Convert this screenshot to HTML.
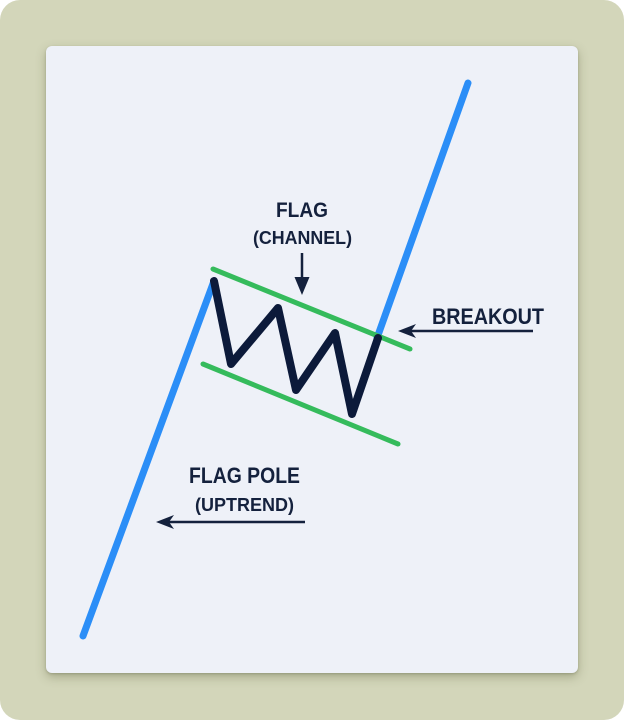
<!DOCTYPE html>
<html>
<head>
<meta charset="utf-8">
<style>
  html, body { margin: 0; padding: 0; background: #ffffff; }
  body { width: 624px; height: 720px; overflow: hidden; position: relative; }
  .outer {
    position: absolute; left: 0; top: 0; width: 624px; height: 720px;
    background: #d3d6ba; border-radius: 20px;
  }
  .card {
    position: absolute; left: 46px; top: 46px; width: 532px; height: 627px;
    background: #eef1f8; border-radius: 6px;
    box-shadow: 0 4px 10px rgba(80, 85, 50, 0.35), 0 1px 2px rgba(80,85,50,0.25);
  }
  svg { position: absolute; left: 0; top: 0; }
  text { font-family: "Liberation Sans", "DejaVu Sans", sans-serif; font-weight: bold; fill: #14213d; }
</style>
</head>
<body>
<div class="outer"></div>
<div class="card"></div>
<svg width="624" height="720" viewBox="0 0 624 720">
  <!-- blue pole -->
  <line x1="83" y1="636" x2="214" y2="281" stroke="#2b8ef7" stroke-width="7" stroke-linecap="round"/>
  <!-- blue breakout -->
  <line x1="377" y1="338" x2="468" y2="83" stroke="#2b8ef7" stroke-width="7" stroke-linecap="round"/>
  <!-- green channel lines -->
  <line x1="213" y1="269" x2="410" y2="349" stroke="#35bb5c" stroke-width="5" stroke-linecap="round"/>
  <line x1="203" y1="364" x2="398" y2="444" stroke="#35bb5c" stroke-width="5" stroke-linecap="round"/>
  <!-- black zigzag -->
  <polyline points="214,281 231,364 278,308 296,390 335,333 352,414 378,338"
    fill="none" stroke="#0c1a3a" stroke-width="8" stroke-linecap="round" stroke-linejoin="round"/>

  <!-- FLAG label -->
  <text x="276" y="217" font-size="21" textLength="52" lengthAdjust="spacingAndGlyphs">FLAG</text>
  <text x="253" y="244" font-size="18" textLength="99" lengthAdjust="spacingAndGlyphs">(CHANNEL)</text>
  <line x1="302" y1="253" x2="302" y2="282" stroke="#14213d" stroke-width="2.5"/>
  <polygon points="294.5,277 309.5,277 302,295" fill="#14213d"/>

  <!-- BREAKOUT label -->
  <text x="432" y="324" font-size="22" textLength="112" lengthAdjust="spacingAndGlyphs">BREAKOUT</text>
  <line x1="410" y1="331" x2="533" y2="331" stroke="#14213d" stroke-width="2.5"/>
  <polygon points="398,331 416,324 411,331 416,338" fill="#14213d"/>

  <!-- FLAG POLE label -->
  <text x="189" y="483" font-size="22" textLength="111" lengthAdjust="spacingAndGlyphs">FLAG POLE</text>
  <text x="195" y="511" font-size="18" textLength="99" lengthAdjust="spacingAndGlyphs">(UPTREND)</text>
  <line x1="168" y1="522" x2="305" y2="522" stroke="#14213d" stroke-width="2.5"/>
  <polygon points="156,522 174,515 169,522 174,529" fill="#14213d"/>
</svg>
</body>
</html>
